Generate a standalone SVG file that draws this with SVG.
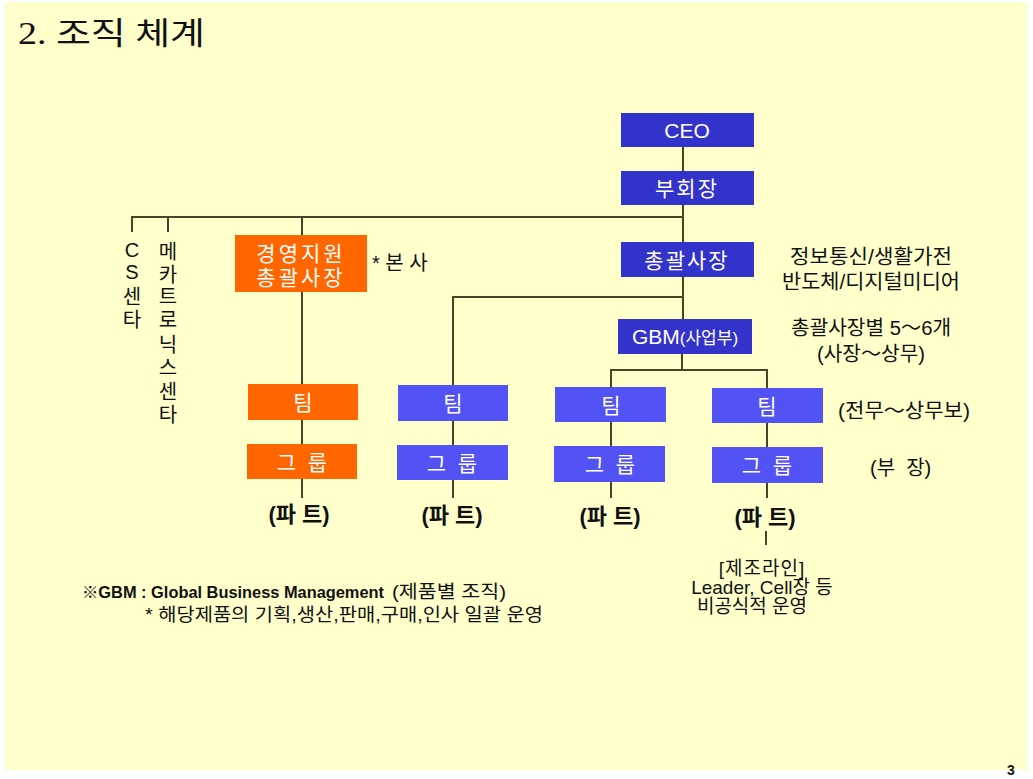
<svg xmlns="http://www.w3.org/2000/svg" width="1033" height="779" viewBox="0 0 1033 779">
<style>
.bg{fill:#FFFFCC}
.dark{fill:#3333CC}
.light{fill:#5252F5}
.orange{fill:#FF6600}
.lbl{fill:#FFFFFF;font-family:"Liberation Sans","Noto Sans CJK KR",sans-serif;font-size:21px;text-anchor:middle}
.txt{fill:#111111;font-family:"Liberation Sans","Noto Sans CJK KR",sans-serif;font-size:20px}
.c{text-anchor:middle}
.part{fill:#111111;font-family:"Liberation Sans","Noto Sans CJK KR",sans-serif;font-size:22px;font-weight:bold;text-anchor:middle}
.ln{stroke:#4A4228;stroke-width:2;fill:none}
</style>
<rect x="0" y="0" width="1033" height="779" fill="#FFFFFF"/>
<rect class="bg" x="5" y="2" width="1022" height="768"/>
<text x="18" y="44" font-family="'Liberation Serif','Noto Sans CJK KR',serif" font-size="31" fill="#111111" textLength="187" lengthAdjust="spacingAndGlyphs">2. 조직 체계</text>

<g id="connectors">
<path class="ln" d="M683 147V319"/>
<path class="ln" d="M132 232V217H683"/>
<path class="ln" d="M168 217V232"/>
<path class="ln" d="M302 217V498"/>
<path class="ln" d="M453 498V297H683"/>
<path class="ln" d="M682 354V370"/>
<path class="ln" d="M611 498V370H767V498"/>
<path class="ln" d="M766 531V545"/>
</g>

<g id="ceo"><rect class="dark" x="621" y="113" width="133" height="34"/><text class="lbl" x="687" y="138">CEO</text></g>
<g id="vice-chairman"><rect class="dark" x="621" y="171" width="133" height="34"/><text class="lbl" x="687" y="196" letter-spacing="2">부회장</text></g>
<g id="president"><rect class="dark" x="621" y="242" width="133" height="35"/><text class="lbl" x="687" y="268" letter-spacing="2">총괄사장</text></g>
<g id="gbm"><rect class="dark" x="618" y="319" width="134" height="35"/><text class="lbl" x="685" y="344">GBM<tspan font-size="17">(사업부)</tspan></text></g>
<g id="mgmt-support"><rect class="orange" x="235" y="235" width="132" height="57"/><text class="lbl" x="301" y="261" letter-spacing="3">경영지원</text><text class="lbl" x="301" y="285" letter-spacing="3">총괄사장</text></g>

<g id="team-1"><rect class="orange" x="248" y="384" width="110" height="36"/><text class="lbl" x="303" y="410">팀</text></g>
<g id="group-1"><rect class="orange" x="247" y="444" width="110" height="35"/><text class="lbl" x="302" y="470" xml:space="preserve">그  룹</text></g>
<g id="team-2"><rect class="light" x="398" y="385" width="110" height="36"/><text class="lbl" x="453" y="411">팀</text></g>
<g id="group-2"><rect class="light" x="397" y="445" width="111" height="35"/><text class="lbl" x="452" y="471" xml:space="preserve">그  룹</text></g>
<g id="team-3"><rect class="light" x="555" y="387" width="111" height="35"/><text class="lbl" x="611" y="413">팀</text></g>
<g id="group-3"><rect class="light" x="554" y="446" width="111" height="36"/><text class="lbl" x="610" y="472" xml:space="preserve">그  룹</text></g>
<g id="team-4"><rect class="light" x="712" y="388" width="111" height="35"/><text class="lbl" x="767" y="414">팀</text></g>
<g id="group-4"><rect class="light" x="712" y="447" width="111" height="36"/><text class="lbl" x="767" y="473" xml:space="preserve">그  룹</text></g>

<g id="parts">
<text class="part" x="299" y="522">(파 트)</text>
<text class="part" x="452" y="523">(파 트)</text>
<text class="part" x="610" y="524">(파 트)</text>
<text class="part" x="765" y="525">(파 트)</text>
</g>

<g id="cs-center" class="txt c">
<text x="132" y="257">C</text>
<text x="132" y="279">S</text>
<text x="132" y="304">센</text>
<text x="132" y="327">타</text>
</g>
<g id="mechatronics-center" class="txt c">
<text x="168" y="259">메</text>
<text x="168" y="282">카</text>
<text x="168" y="304">트</text>
<text x="168" y="327">로</text>
<text x="168" y="352">닉</text>
<text x="168" y="375">스</text>
<text x="168" y="399">센</text>
<text x="168" y="422">타</text>
</g>

<g id="notes" class="txt">
<text x="372" y="270" xml:space="preserve">* 본 사</text>
<text class="c" x="871" y="264" textLength="162" lengthAdjust="spacingAndGlyphs">정보통신/생활가전</text>
<text class="c" x="871" y="289" textLength="178" lengthAdjust="spacingAndGlyphs">반도체/디지털미디어</text>
<text class="c" x="871" y="335" textLength="160" lengthAdjust="spacingAndGlyphs">총괄사장별 5～6개</text>
<text class="c" x="871" y="361" textLength="108" lengthAdjust="spacingAndGlyphs">(사장～상무)</text>
<text x="838" y="418" textLength="132" lengthAdjust="spacingAndGlyphs">(전무～상무보)</text>
<text x="870" y="475" xml:space="preserve">(부  장)</text>
<text class="c" x="762" y="575" font-size="19" letter-spacing="1">[제조라인]</text>
<text class="c" x="762" y="594" font-size="19">Leader, Cell장 등</text>
<text class="c" x="752" y="613" font-size="19">비공식적 운영</text>
<text x="82" y="598" font-size="16" font-weight="bold" textLength="302" lengthAdjust="spacingAndGlyphs">※GBM : Global Business Management</text>
<text x="392" y="598" font-size="18" textLength="114" lengthAdjust="spacingAndGlyphs">(제품별 조직)</text>
<text x="145" y="621" font-size="18" textLength="398" lengthAdjust="spacingAndGlyphs">* 해당제품의 기획,생산,판매,구매,인사 일괄 운영</text>
<text x="1007" y="775" font-size="14" font-weight="bold">3</text>
</g>
</svg>
